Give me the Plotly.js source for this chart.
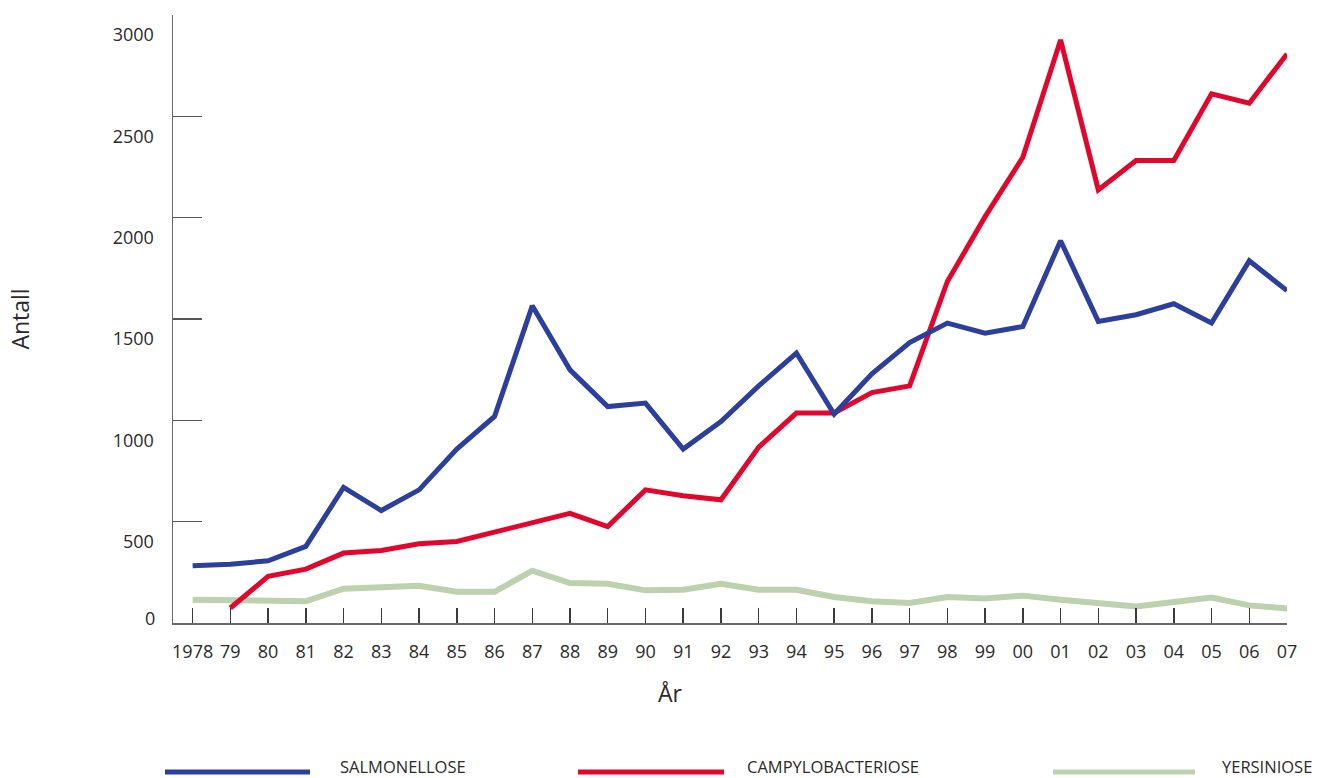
<!DOCTYPE html>
<html>
<head>
<meta charset="utf-8">
<script src="https://cdn.plot.ly/plotly-3.0.1.min.js"></script>
<style>html,body{margin:0;padding:0;background:#fff;}#chart{width:1339px;height:778px;}</style>
</head>
<body>
<div id="chart"></div>
<script>
const years = [1978,1979,1980,1981,1982,1983,1984,1985,1986,1987,1988,1989,1990,1991,1992,1993,1994,1995,1996,1997,1998,1999,2000,2001,2002,2003,2004,2005,2006,2007];
const yearLabels = ['1978','79','80','81','82','83','84','85','86','87','88','89','90','91','92','93','94','95','96','97','98','99','00','01','02','03','04','05','06','07'];
const salmonellose = [283,290,307,378,669,555,657,858,1019,1565,1249,1068,1085,858,994,1170,1332,1031,1230,1384,1480,1430,1463,1886,1488,1521,1575,1480,1787,1640];
const campylobacteriose = [null,74,230,266,345,358,391,402,447,493,541,476,657,628,608,868,1036,1036,1137,1170,1685,2005,2298,2877,2137,2282,2282,2611,2565,2808];
const yersiniose = [115,111,110,107,169,177,184,154,154,258,197,194,161,164,194,164,164,128,107,99,128,121,135,115,102,82,104,126,87,72];
const seriesNames = ['SALMONELLOSE','CAMPYLOBACTERIOSE','YERSINIOSE'];
const yTicks = [0,500,1000,1500,2000,2500,3000];
const yTickLabels = ['','500','1000','1500','2000','2500','3000'];
const xTitle = 'År';
const yTitle = 'Antall';

const colors = ['#2c3f9d','#e3062c','#bdd1ae'];
const widths = [5,5,6];
const seriesData = [salmonellose, campylobacteriose, yersiniose];

const traces = seriesData.map((d,i)=>({
  x: years, y: d, type:'scatter', mode:'lines', name: seriesNames[i],
  line:{color:colors[i], width:widths[i]}, connectgaps:false, showlegend:false
}));
const ordered = [traces[2], traces[1], traces[0]];

const FONT = 'Open Sans, Noto Sans, sans-serif';
const TXT = '#2b2a29';

const plotL = 173, plotW = 1114, plotB = 623, plotH = 608;
const px = v => (v - plotL)/plotW;
const py = v => (plotB - v)/plotH;
const legLines = [[165,310],[578,724],[1053,1195]];
const legText = [338,745,1220];
const shapes = [];
const annotations = [];
legLines.forEach((l,i)=>{
  shapes.push({type:'line', xref:'paper', yref:'paper', x0:px(l[0]), x1:px(l[1]), y0:py(772), y1:py(772),
    line:{color:colors[i], width:5}});
  annotations.push({xref:'paper', yref:'paper', x:px(legText[i]), y:py(766), xanchor:'left', yanchor:'middle',
    text:seriesNames[i], showarrow:false, font:{family:FONT, size:16.5, color:TXT}});
});
annotations.push({xref:'paper', yref:'y', x:0, y:0, xanchor:'right', yanchor:'middle', xshift:-16, yshift:5,
  text:'0', showarrow:false, font:{family:FONT, size:18, color:TXT}});
annotations.push({xref:'paper', yref:'paper', x:px(670), y:py(693), xanchor:'center', yanchor:'middle',
  text:xTitle, showarrow:false, font:{family:FONT, size:23, color:TXT}});

const layout = {
  width:1339, height:778,
  margin:{l:173, r:52, t:15, b:155},
  paper_bgcolor:'#fff', plot_bgcolor:'#fff',
  font:{family:FONT, color:TXT},
  xaxis:{
    range:[1977.48, 2007], tickvals:years, ticktext:yearLabels,
    ticks:'inside', ticklen:15, tickwidth:1.5, tickcolor:'#3a3a3a',
    showline:true, linecolor:'#6a6a6a', linewidth:1.5, showgrid:false, zeroline:false,
    tickfont:{family:FONT, size:18, color:TXT}, ticklabelstandoff:12
  },
  yaxis:{
    range:[0,3000], tickvals:yTicks, ticktext:yTickLabels,
    ticks:'inside', ticklen:29, tickwidth:1.5, tickcolor:'#555',
    showline:true, linecolor:'#6a6a6a', linewidth:1.5, showgrid:false, zeroline:false,
    tickfont:{family:FONT, size:18, color:TXT}, ticklabelshift:20, ticklabelstandoff:14,
    title:{text:yTitle, font:{family:FONT, size:23, color:TXT}, standoff:76}
  },
  shapes:shapes, annotations:annotations, showlegend:false
};
Plotly.newPlot('chart', ordered, layout, {displayModeBar:false, staticPlot:true});
</script>
</body>
</html>
